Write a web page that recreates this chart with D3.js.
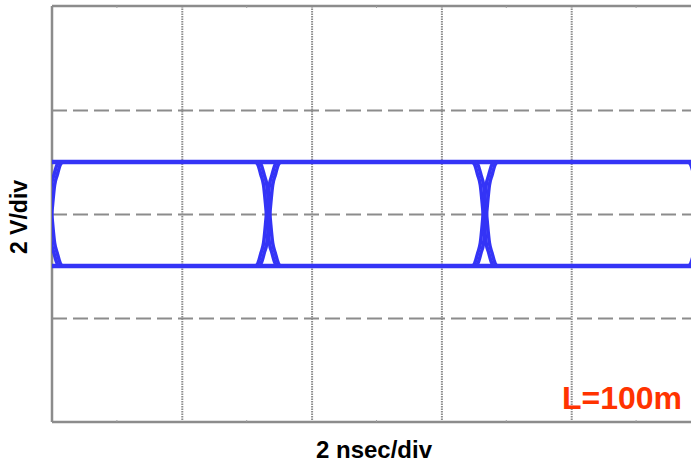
<!DOCTYPE html>
<html>
<head>
<meta charset="utf-8">
<script src="https://cdn.jsdelivr.net/npm/d3@7"></script>
<style>
html,body{margin:0;padding:0;background:#fff;}
svg{display:block;}
</style>
</head>
<body>
<svg id="chart" width="691" height="462"></svg>
<script>
// ---- data ----
const timeDomain = [0, 10];          // ns : 2 ns/div x 5 div
const voltDomain = [-4, 4];          // V  : 2 V/div x 4 div
const xGridTicks = [2, 4, 6, 8];     // ns
const xMinorTicks = [1, 3, 5, 7, 9]; // ns
const yGridTicks = [-2, 0, 2];       // V
const levels = [1, -1];              // V, high / low logic levels
const crossings = [-0.03, 3.33, 6.67, 10.0]; // ns, eye crossing points
const edgeT = [-0.17, -0.13, -0.085, -0.045, 0, 0.045, 0.085, 0.13, 0.17]; // ns rel. to crossing
const edgeV = [1, 0.94, 0.75, 0.56, 0, -0.56, -0.75, -0.94, -1];            // V, falling edge
const jitter = [-0.025, 0.025];      // ns
const xLabel = "2 nsec/div";
const yLabel = "2 V/div";
const note = "L=100m";

// ---- layout ----
const svg = d3.select("#chart");
const mLeft = 52, mTop = 6, mRight = 701, mBottom = 422;
const x = d3.scaleLinear().domain(timeDomain).range([mLeft, mRight]);
const y = d3.scaleLinear().domain(voltDomain).range([mBottom, mTop]);

svg.append("defs").append("clipPath").attr("id", "plotClip")
  .append("rect").attr("x", mLeft).attr("y", mTop)
  .attr("width", mRight - mLeft).attr("height", mBottom - mTop);

// vertical dotted grid
const vg = svg.append("g").attr("transform", `translate(0,${mTop})`)
  .call(d3.axisBottom(x).tickValues(xGridTicks).tickSize(mBottom - mTop).tickFormat(""));
vg.select(".domain").remove();
vg.selectAll("line").attr("stroke", "#8c8c8c").attr("stroke-width", 2).attr("stroke-dasharray", "1.5,1");

// horizontal dashed grid
const hg = svg.append("g").attr("transform", `translate(${mLeft},0)`)
  .call(d3.axisRight(y).tickValues(yGridTicks).tickSize(mRight - mLeft).tickFormat(""));
hg.select(".domain").remove();
hg.selectAll("line").attr("stroke", "#8c8c8c").attr("stroke-width", 2).attr("stroke-dasharray", "15,6");

// frame: top, left, bottom
const frame = svg.append("g").attr("stroke", "#8c8c8c").attr("stroke-width", 2.5).attr("fill", "none");
frame.append("line").attr("x1", x(timeDomain[0])).attr("x2", x(timeDomain[1])).attr("y1", y(voltDomain[1])).attr("y2", y(voltDomain[1]));
frame.append("line").attr("x1", x(timeDomain[0])).attr("x2", x(timeDomain[1])).attr("y1", y(voltDomain[0])).attr("y2", y(voltDomain[0]));
frame.append("line").attr("x1", x(timeDomain[0])).attr("x2", x(timeDomain[0])).attr("y1", y(voltDomain[1])).attr("y2", y(voltDomain[0]));

// minor ticks on top and bottom borders
const mt = svg.append("g").attr("stroke", "#a0a0a0").attr("stroke-width", 1);
mt.selectAll(".mb").data(xMinorTicks).join("line").attr("class", "mb")
  .attr("x1", d => x(d)).attr("x2", d => x(d)).attr("y1", mBottom).attr("y2", mBottom - 2);
mt.selectAll(".mtop").data(xMinorTicks).join("line").attr("class", "mtop")
  .attr("x1", d => x(d)).attr("x2", d => x(d)).attr("y1", mTop).attr("y2", mTop + 2);

// eye traces
const plot = svg.append("g").attr("clip-path", "url(#plotClip)");
const line = d3.line().x(d => x(d[0])).y(d => y(d[1])).curve(d3.curveMonotoneX);
const traceColor = "#3434f6";

levels.forEach(v => {
  plot.append("path")
    .attr("d", line([[timeDomain[0] - 0.5, v], [timeDomain[1] + 0.5, v]]))
    .attr("fill", "none").attr("stroke", traceColor).attr("stroke-width", 4.5);
});

crossings.forEach(c => {
  jitter.forEach(j => {
    [1, -1].forEach(sign => {
      const pts = edgeT.map((t, i) => [c + j + t, sign * edgeV[i]]);
      pts.unshift([c + j + edgeT[0] - 0.1, sign * edgeV[0]]);
      pts.push([c + j + edgeT[edgeT.length - 1] + 0.1, sign * edgeV[edgeV.length - 1]]);
      plot.append("path").attr("d", line(pts))
        .attr("fill", "none").attr("stroke", traceColor).attr("stroke-width", 3.5)
        .attr("stroke-linejoin", "round");
    });
  });
});

// labels
svg.append("text").attr("x", 374).attr("y", 458).attr("text-anchor", "middle")
  .attr("font-family", "Liberation Sans, Arial, sans-serif").attr("font-weight", "bold")
  .attr("font-size", 24).attr("fill", "#000").text(xLabel);

svg.append("text").attr("transform", "translate(27,217) rotate(-90)").attr("text-anchor", "middle")
  .attr("font-family", "Liberation Sans, Arial, sans-serif").attr("font-weight", "bold")
  .attr("font-size", 23).attr("fill", "#000").text(yLabel);

svg.append("text").attr("x", 682).attr("y", 409).attr("text-anchor", "end")
  .attr("font-family", "Liberation Sans, Arial, sans-serif").attr("font-weight", "bold")
  .attr("font-size", 32).attr("fill", "#ff3300").text(note);
</script>
</body>
</html>
